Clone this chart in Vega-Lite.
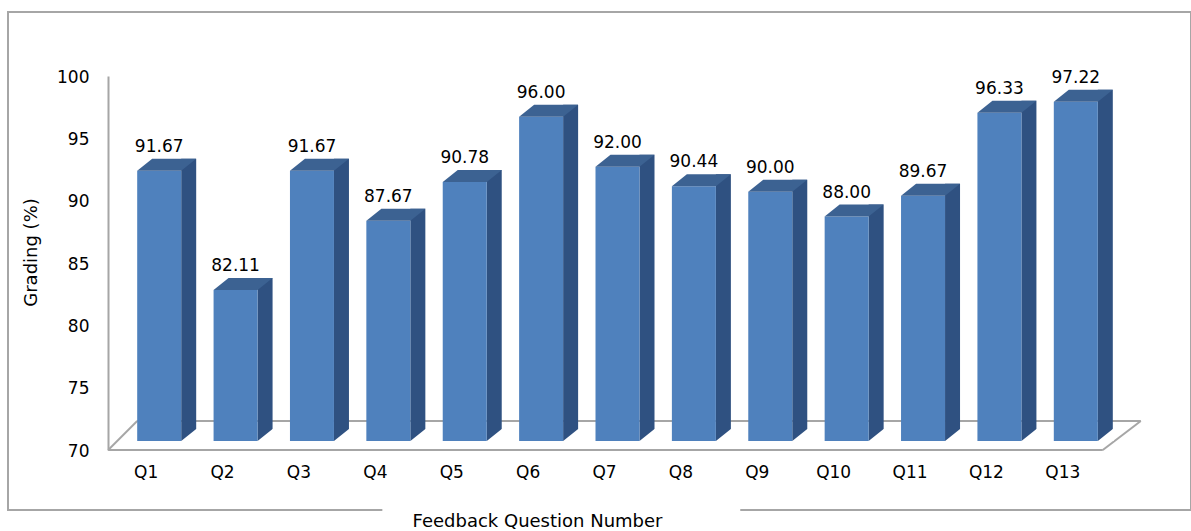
{
  "$schema": "https://vega.github.io/schema/vega-lite/v6.json",
  "width": 1183,
  "height": 498,
  "autosize": {"type": "none"},
  "padding": {"left": 8, "top": 12, "right": 0, "bottom": 21},
  "background": "white",
  "config": {
    "view": {"stroke": "#a6a6a6", "strokeWidth": 2},
    "font": "DejaVu Sans"
  },
  "data": {
    "values": [
      {"q": "Q1", "v": 91.67},
      {"q": "Q2", "v": 82.11},
      {"q": "Q3", "v": 91.67},
      {"q": "Q4", "v": 87.67},
      {"q": "Q5", "v": 90.78},
      {"q": "Q6", "v": 96.00},
      {"q": "Q7", "v": 92.00},
      {"q": "Q8", "v": 90.44},
      {"q": "Q9", "v": 90.00},
      {"q": "Q10", "v": 88.00},
      {"q": "Q11", "v": 89.67},
      {"q": "Q12", "v": 96.33},
      {"q": "Q13", "v": 97.22}
    ]
  },
  "encoding": {
    "x": {
      "field": "q",
      "type": "nominal",
      "sort": null,
      "scale": {
        "type": "band",
        "domain": ["Q1", "Q2", "Q3", "Q4", "Q5", "Q6", "Q7", "Q8", "Q9", "Q10", "Q11", "Q12", "Q13"],
        "range": [100, 1093],
        "paddingInner": 0,
        "paddingOuter": 0
      },
      "axis": {
        "orient": "bottom",
        "offset": -60,
        "domain": false,
        "ticks": false,
        "tickSize": 0,
        "labelAngle": 0,
        "labelPadding": 22,
        "labelBaseline": "middle",
        "labelFontSize": 17,
        "labelColor": "#000000",
        "labelFont": "DejaVu Sans",
        "title": "Feedback Question Number",
        "titleFontSize": 18,
        "titleFontWeight": "normal",
        "titleColor": "#000000",
        "titleFont": "DejaVu Sans",
        "titleX": 529,
        "titleY": 71,
        "titleBaseline": "middle"
      }
    }
  },
  "layer": [
    {
      "data": {"values": [{}]},
      "mark": {"type": "rule", "color": "#a6a6a6", "strokeWidth": 2, "xOffset": -38, "x2Offset": 40},
      "encoding": {
        "x": {"datum": "Q1", "type": "nominal", "bandPosition": 0.5},
        "x2": {"datum": "Q13"},
        "y": {"datum": 70, "type": "quantitative"}
      }
    },
    {
      "data": {"values": [{}]},
      "mark": {"type": "rule", "color": "#a6a6a6", "strokeWidth": 2, "xOffset": -9, "x2Offset": 78, "yOffset": -29},
      "encoding": {
        "x": {"datum": "Q1", "type": "nominal", "bandPosition": 0.5},
        "x2": {"datum": "Q13"},
        "y": {"datum": 70, "type": "quantitative"}
      }
    },
    {
      "data": {"values": [{}]},
      "mark": {"type": "rule", "color": "#a6a6a6", "strokeWidth": 2, "xOffset": -38, "x2Offset": -9, "y2Offset": -29},
      "encoding": {
        "x": {"datum": "Q1", "type": "nominal", "bandPosition": 0.5},
        "x2": {"datum": "Q1"},
        "y": {"datum": 70, "type": "quantitative"},
        "y2": {"datum": 70}
      }
    },
    {
      "data": {"values": [{}]},
      "mark": {"type": "rule", "color": "#a6a6a6", "strokeWidth": 2, "xOffset": 40, "x2Offset": 78, "y2Offset": -29},
      "encoding": {
        "x": {"datum": "Q13", "type": "nominal", "bandPosition": 0.5},
        "x2": {"datum": "Q13"},
        "y": {"datum": 70, "type": "quantitative"},
        "y2": {"datum": 70}
      }
    },
    {
      "data": {"values": [{}]},
      "mark": {"type": "rule", "color": "white", "strokeWidth": 5, "xOffset": 7, "x2Offset": -17},
      "encoding": {
        "x": {"datum": "Q4", "type": "nominal", "bandPosition": 0.5},
        "x2": {"datum": "Q9"},
        "y": {"value": "height"}
      }
    },
    {
      "mark": {"type": "bar", "color": "#2f5181", "width": 15, "xOffset": 42.5, "yOffset": -21, "y2Offset": -9},
      "encoding": {
        "y": {
          "field": "v",
          "type": "quantitative",
          "scale": {"domain": [70, 100], "range": [438, 64], "nice": false, "zero": false},
          "axis": {
            "orient": "left",
            "offset": -100,
            "values": [70, 75, 80, 85, 90, 95, 100],
            "grid": false,
            "ticks": false,
            "tickSize": 0,
            "domainColor": "#a6a6a6",
            "domainWidth": 2,
            "labelPadding": 19,
            "labelFontSize": 17,
            "labelColor": "#000000",
            "labelFont": "DejaVu Sans",
            "labelOffset": 1,
            "title": "Grading (%)",
            "titleFontSize": 18,
            "titleFontWeight": "normal",
            "titleColor": "#000000",
            "titleFont": "DejaVu Sans",
            "titleX": -77,
            "titleY": 240,
            "titleBaseline": "middle",
            "titleAngle": -90
          }
        },
        "y2": {"datum": 70}
      }
    },
    {
      "mark": {"type": "bar", "color": "#4f81bd", "width": 44, "xOffset": 13, "yOffset": -9, "y2Offset": -9},
      "encoding": {
        "y": {"field": "v", "type": "quantitative"},
        "y2": {"datum": 70}
      }
    },
    {
      "mark": {
        "type": "point",
        "filled": true,
        "opacity": 1,
        "color": "#3c6292",
        "size": 3600,
        "strokeWidth": 0,
        "shape": "M -0.9833 0.2 L 0.4833 0.2 L 0.9833 -0.2 L -0.4833 -0.2 Z",
        "xOffset": 20.5,
        "yOffset": -15
      },
      "encoding": {
        "y": {"field": "v", "type": "quantitative"}
      }
    },
    {
      "mark": {
        "type": "point",
        "filled": true,
        "opacity": 1,
        "color": "white",
        "size": 900,
        "strokeWidth": 0,
        "shape": "M -0.5 0.4 L 0.56 0.4 L 0.56 -0.4 L 0.5 -0.4 Z",
        "xOffset": 42.5,
        "yOffset": -15
      },
      "encoding": {
        "y": {"datum": 70, "type": "quantitative"}
      }
    },
    {
      "mark": {"type": "text", "fontSize": 17, "font": "DejaVu Sans", "color": "#000000", "baseline": "middle", "xOffset": 13, "yOffset": -33},
      "encoding": {
        "y": {"field": "v", "type": "quantitative"},
        "text": {"field": "v", "type": "quantitative", "format": ".2f"}
      }
    }
  ]
}
